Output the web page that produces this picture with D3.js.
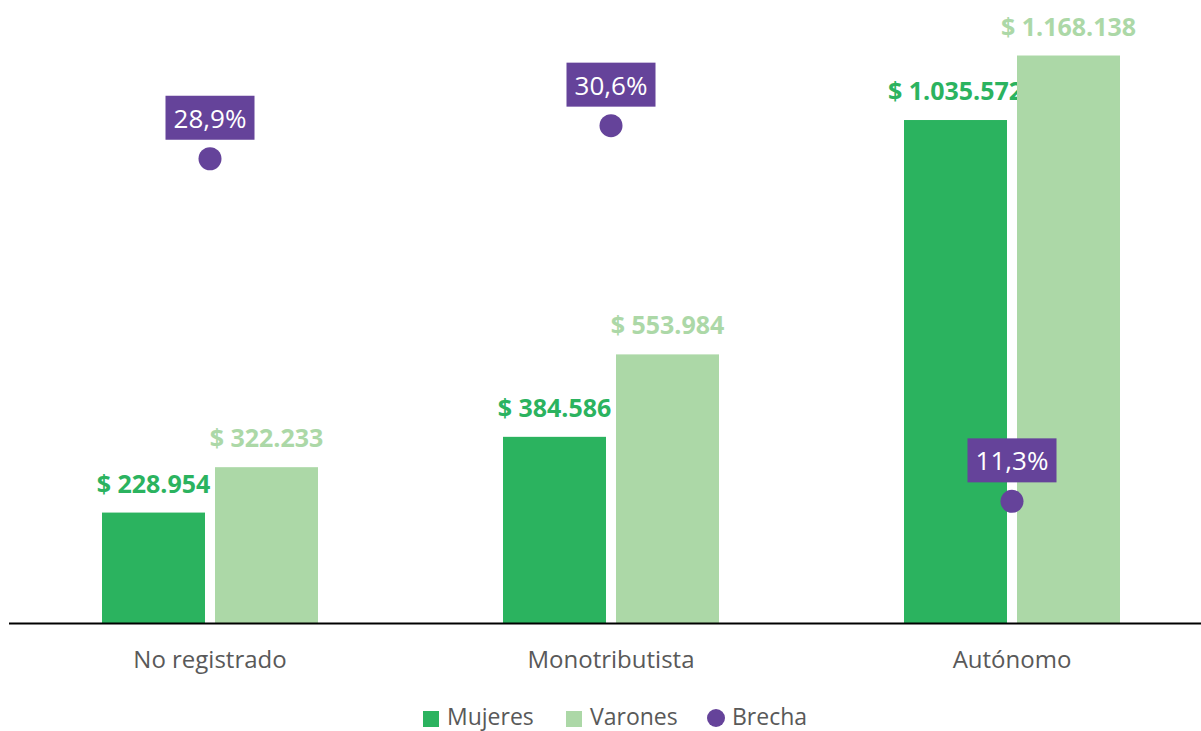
<!DOCTYPE html>
<html>
<head>
<meta charset="utf-8">
<script src="https://cdn.jsdelivr.net/npm/d3@7"></script>
<style>
  body { margin: 0; background: #fff; }
  svg { display: block; }
</style>
</head>
<body>
<script>
const categories = ["No registrado", "Monotributista", "Autónomo"];
const mujeres = [228954, 384586, 1035572];
const varones = [322233, 553984, 1168138];
const brecha = [28.9, 30.6, 11.3];
const seriesNames = ["Mujeres", "Varones", "Brecha"];

const w = 1201, h = 731;
const plotTop = 40, base = 624;
const colors = { Mujeres: "#2bb35f", Varones: "#acd8a7", Brecha: "#65439a" };
const font = "'Open Sans', sans-serif";

const fmt = (v) => "$ " + d3.format(",")(v).replace(/,/g, ".");
const fmtPct = (v) => d3.format(".1f")(v).replace(".", ",") + "%";

const svg = d3.select("body").append("svg").attr("width", w).attr("height", h);

const x = d3.scaleBand().domain(categories).range([9.5, 1212.5]);
const x1 = d3.scaleBand().domain(["Mujeres", "Varones"]).range([-108, 108]).paddingInner(10 / 113);
const y = d3.scaleLinear().domain([0, 1200000]).range([base, plotTop]);
const y2 = d3.scaleLinear().domain([5, 35]).range([base, plotTop]);

const rows = categories.map((c, i) => ({ cat: c, Mujeres: mujeres[i], Varones: varones[i], Brecha: brecha[i] }));

const groups = svg.append("g").selectAll("g")
  .data(rows)
  .enter().append("g")
  .attr("transform", (d) => "translate(" + (x(d.cat) + x.bandwidth() / 2) + ",0)");

const bars = groups.selectAll("g.bar")
  .data((d) => ["Mujeres", "Varones"].map((k) => ({ key: k, value: d[k] })))
  .enter().append("g").attr("class", "bar");

bars.append("rect")
  .attr("x", (d) => x1(d.key))
  .attr("width", x1.bandwidth())
  .attr("y", (d) => y(d.value))
  .attr("height", (d) => base - y(d.value))
  .attr("fill", (d) => colors[d.key]);

bars.append("text")
  .attr("x", (d) => x1(d.key) + x1.bandwidth() / 2)
  .attr("y", (d) => y(d.value) - 20)
  .attr("text-anchor", "middle")
  .attr("font-family", font)
  .attr("font-weight", "bold")
  .attr("font-size", "25px")
  .attr("fill", (d) => colors[d.key])
  .text((d) => fmt(d.value));

// axis line
svg.append("line")
  .attr("x1", 9).attr("x2", w)
  .attr("y1", 623.5).attr("y2", 623.5)
  .attr("stroke", "#000").attr("stroke-width", 2);

// category labels
svg.append("g").selectAll("text")
  .data(categories)
  .enter().append("text")
  .attr("x", (d) => x(d) + x.bandwidth() / 2)
  .attr("y", 668)
  .attr("text-anchor", "middle")
  .attr("font-family", font)
  .attr("font-size", "24px")
  .attr("fill", "#595959")
  .text((d) => d);

// brecha points with labels
const pts = groups.append("g");
pts.append("circle")
  .attr("cx", 0)
  .attr("cy", (d) => y2(d.Brecha))
  .attr("r", 11.5)
  .attr("fill", colors.Brecha);
pts.append("rect")
  .attr("x", -44.5)
  .attr("y", (d) => y2(d.Brecha) - 63)
  .attr("width", 89)
  .attr("height", 44)
  .attr("fill", colors.Brecha);
pts.append("text")
  .attr("x", 0)
  .attr("y", (d) => y2(d.Brecha) - 31)
  .attr("text-anchor", "middle")
  .attr("font-family", font)
  .attr("font-size", "26px")
  .attr("fill", "#fff")
  .text((d) => fmtPct(d.Brecha));

// legend
const legendX = [423, 566, 707];
const legend = svg.append("g").selectAll("g")
  .data(seriesNames)
  .enter().append("g")
  .attr("transform", (d, i) => "translate(" + legendX[i] + ",718)");
legend.filter((d) => d !== "Brecha").append("rect")
  .attr("x", 0).attr("y", -7).attr("width", 16).attr("height", 16)
  .attr("fill", (d) => colors[d]);
legend.filter((d) => d === "Brecha").append("circle")
  .attr("cx", 9).attr("cy", 0).attr("r", 9)
  .attr("fill", colors.Brecha);
legend.append("text")
  .attr("x", (d) => d === "Brecha" ? 25 : 24)
  .attr("y", 7)
  .attr("font-family", font)
  .attr("font-size", "23px")
  .attr("fill", "#595959")
  .text((d) => d);
</script>
</body>
</html>
